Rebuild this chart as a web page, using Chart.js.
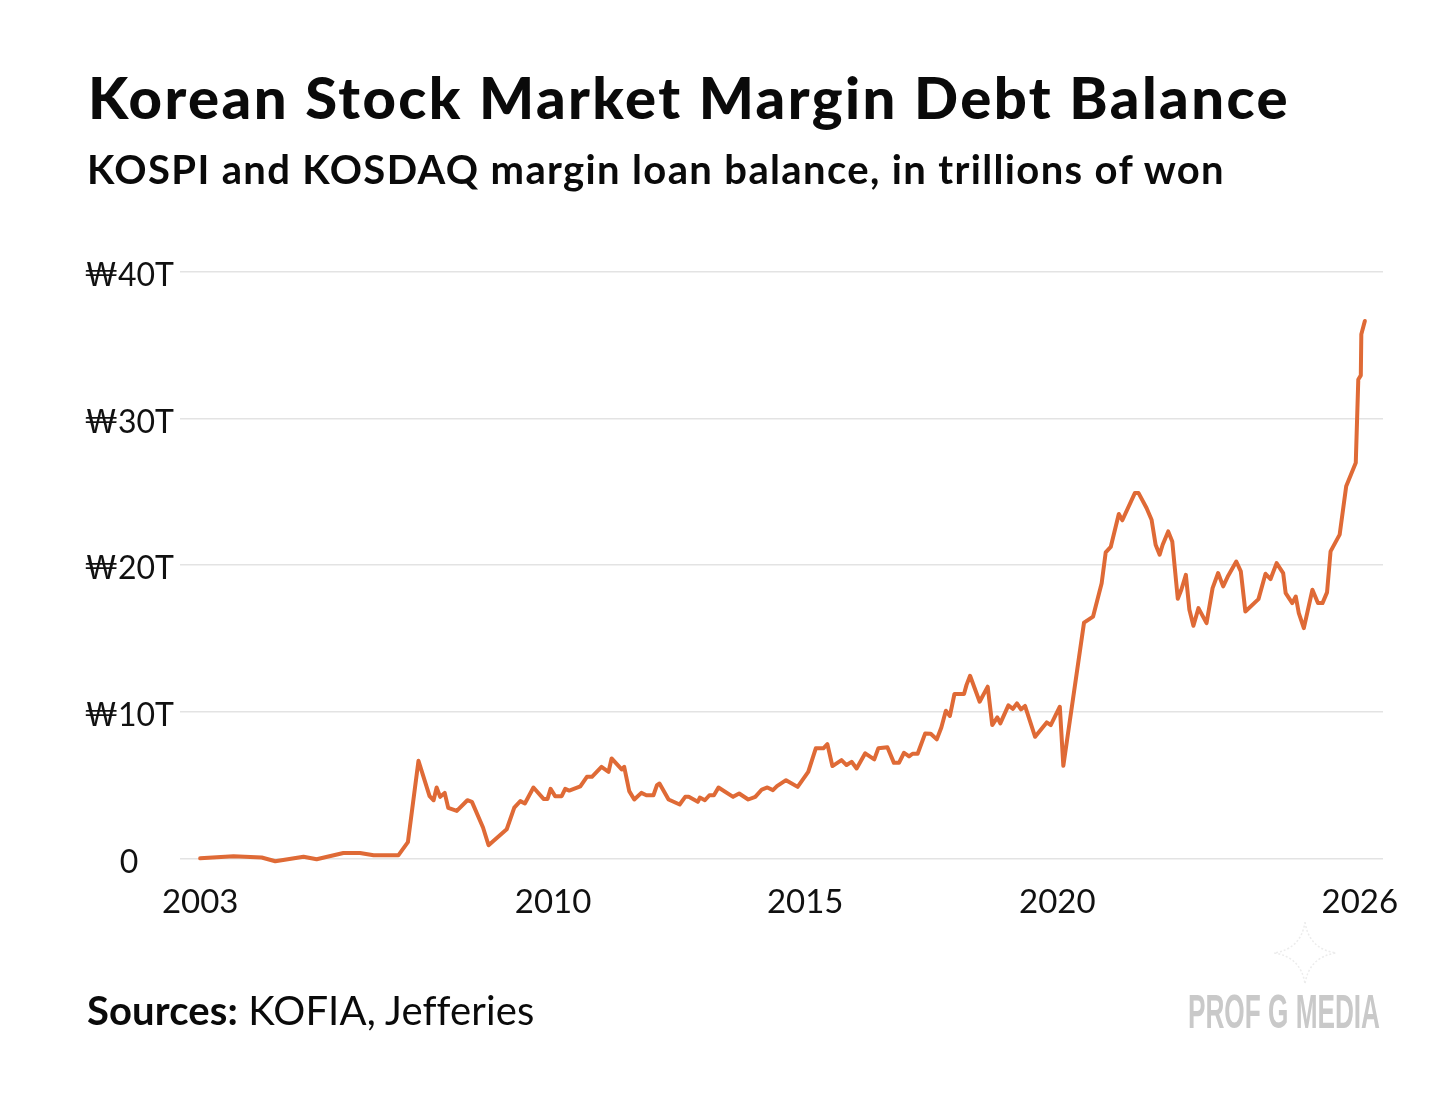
<!DOCTYPE html>
<html><head><meta charset="utf-8">
<script src="https://cdn.jsdelivr.net/npm/chart.js@4.4.1/dist/chart.umd.min.js"></script>
<style>
html,body{margin:0;padding:0;background:#fff;}
#wrap{position:relative;width:1456px;height:1099px;overflow:hidden;background:#fff;}
canvas{position:absolute;left:0;top:0;}
.t{position:absolute;white-space:nowrap;line-height:1;color:#0a0a0a;font-family:Lato,"Noto Sans",sans-serif;display:inline-block;}
#title{left:88px;top:68px;font-size:58px;font-weight:900;}
#subtitle{left:87px;top:149px;font-size:40px;font-weight:700;}
#source{left:87px;top:990px;font-size:40px;font-weight:400;}
#source b{font-weight:700;}
#logo{left:1188px;top:988px;font-size:48px;font-weight:700;color:#c9c9c9;font-family:"Liberation Sans Narrow","Liberation Sans",sans-serif;transform-origin:0 0;}
#star{position:absolute;left:1270px;top:918px;}
</style></head>
<body>
<div id="wrap">
<canvas id="c" width="1456" height="1099"></canvas>
<div class="t" id="title">Korean Stock Market Margin Debt Balance</div>
<div class="t" id="subtitle">KOSPI and KOSDAQ margin loan balance, in trillions of won</div>
<div class="t" id="source"><b>Sources:</b> KOFIA, Jefferies</div>
<svg id="star" width="70" height="70" viewBox="0 0 70 70"><path d="M35 4 Q39 31 66 35 Q39 39 35 66 Q31 39 4 35 Q31 31 35 4Z" fill="none" stroke="#ececec" stroke-width="1.5" stroke-dasharray="2 2"/></svg>
<div class="t" id="logo">PROF G MEDIA</div>
</div>
<script>
// Decimal-year dates and margin debt balance (trillions of won)
const dates = [
2003.00,2003.66,2004.22,2004.49,2005.05,2005.31,2005.84,2006.17,2006.44,2006.93,
2007.12,2007.33,2007.55,2007.63,2007.69,2007.76,2007.85,2007.92,2008.09,2008.30,
2008.39,2008.61,2008.72,2009.08,2009.23,2009.35,2009.44,2009.61,2009.81,2009.89,
2009.95,2010.04,2010.17,2010.24,2010.32,2010.54,2010.67,2010.77,2010.96,2011.10,
2011.16,2011.36,2011.41,2011.51,2011.61,2011.75,2011.85,2011.99,2012.06,2012.11,
2012.29,2012.51,2012.62,2012.69,2012.87,2012.91,2013.01,2013.10,2013.19,2013.28,
2013.57,2013.69,2013.87,2014.01,2014.14,2014.25,2014.36,2014.44,2014.62,2014.85,
2015.06,2015.21,2015.36,2015.44,2015.54,2015.72,2015.82,2015.92,2016.02,2016.19,
2016.37,2016.45,2016.63,2016.76,2016.86,2016.96,2017.06,2017.13,2017.23,2017.38,
2017.49,2017.61,2017.70,2017.79,2017.87,2017.96,2018.15,2018.20,2018.27,2018.46,
2018.62,2018.71,2018.81,2018.87,2019.03,2019.12,2019.20,2019.28,2019.36,2019.56,
2019.79,2019.87,2020.05,2020.12,2020.53,2020.71,2020.88,2020.96,2021.06,2021.22,
2021.29,2021.54,2021.61,2021.77,2021.87,2021.95,2022.03,2022.09,2022.20,2022.28,
2022.39,2022.46,2022.55,2022.62,2022.70,2022.80,2022.96,2023.08,2023.19,2023.29,
2023.39,2023.55,2023.64,2023.73,2023.99,2024.13,2024.23,2024.35,2024.48,2024.53,
2024.66,2024.73,2024.79,2024.89,2025.06,2025.17,2025.26,2025.35,2025.42,2025.60,
2025.73,2025.92,2025.97,2026.02,2026.03,2026.10
];
const balance = [
0.00,0.14,0.05,-0.20,0.10,-0.07,0.36,0.36,0.20,0.20,
1.10,6.65,4.24,3.96,4.83,4.19,4.46,3.44,3.23,3.96,
3.85,2.10,0.89,1.98,3.46,3.90,3.74,4.83,4.05,4.05,
4.74,4.24,4.24,4.74,4.62,4.90,5.56,5.56,6.24,5.90,
6.81,6.06,6.24,4.58,4.01,4.46,4.30,4.30,4.99,5.10,
4.01,3.67,4.19,4.19,3.85,4.14,3.96,4.30,4.30,4.83,
4.19,4.42,4.01,4.19,4.69,4.83,4.65,4.92,5.33,4.87,
5.90,7.50,7.50,7.79,6.29,6.70,6.36,6.58,6.13,7.16,
6.75,7.50,7.57,6.51,6.51,7.20,6.95,7.13,7.13,8.52,
8.50,8.11,8.92,10.07,9.71,11.21,11.21,11.83,12.45,10.68,
11.71,9.09,9.61,9.20,10.43,10.20,10.57,10.16,10.39,8.29,
9.27,9.09,10.34,6.31,16.08,16.49,18.77,20.87,21.24,23.49,
23.06,24.93,24.93,23.90,23.10,21.39,20.71,21.39,22.30,21.62,
17.70,18.32,19.34,16.95,15.86,17.07,16.04,18.43,19.46,18.55,
19.28,20.25,19.57,16.84,17.68,19.41,19.05,20.14,19.46,18.09,
17.41,17.86,16.73,15.70,18.32,17.41,17.41,18.14,20.94,22.08,
25.38,26.98,32.67,32.95,35.75,36.66
];
const xTickYears = [2003, 2010, 2015, 2020, 2026];
const yTickValues = [0, 10, 20, 30, 40];

function fitSpacing(id, target){
  const el = document.getElementById(id);
  const w = el.getBoundingClientRect().width;
  const n = el.textContent.length;
  el.style.letterSpacing = ((target - w) / n) + 'px';
}
function fitScale(id, target){
  const el = document.getElementById(id);
  const w = el.getBoundingClientRect().width;
  el.style.transform = 'scaleX(' + (target / w) + ')';
}

function draw(){
  fitSpacing('title', 1202);
  fitSpacing('subtitle', 1138);
  fitSpacing('source', 446);
  fitScale('logo', 192);
  const ctx = document.getElementById('c').getContext('2d');
  new Chart(ctx, {
    type: 'line',
    data: { datasets: [{
      data: dates.map((d, i) => ({ x: d, y: balance[i] })),
      borderColor: '#DF6A36', borderWidth: 4, pointRadius: 0, tension: 0,
      fill: false, borderJoinStyle: 'round', borderCapStyle: 'round'
    }]},
    options: {
      responsive: false, animation: false, devicePixelRatio: 1,
      layout: { padding: { left: 0, right: 73, top: 272, bottom: 169 } },
      plugins: { legend: { display: false }, tooltip: { enabled: false } },
      scales: {
        x: {
          type: 'linear', min: 2002.6, max: 2026.46,
          grid: { display: false }, border: { display: false },
          afterBuildTicks: s => { s.ticks = xTickYears.map(v => ({ value: v })); },
          afterFit: s => { s.height = 60; },
          ticks: { callback: v => String(v), color: '#111', font: { family: 'Lato', size: 33 },
                   padding: 5, maxRotation: 0, autoSkip: false }
        },
        y: {
          min: -0.8, max: 40,
          grid: { color: '#e3e3e3', lineWidth: 1.5, drawTicks: false }, border: { display: false },
          afterBuildTicks: s => { s.ticks = yTickValues.map(v => ({ value: v })); },
          afterFit: s => { s.width = 180; },
          ticks: { callback: v => v === 0 ? '0' : '\u20A9' + v + 'T', crossAlign: 'center',
                   padding: 6, labelOffset: 4, color: '#111', font: { family: 'Lato', size: 32 } }
        }
      }
    }
  });
}
Promise.all([
  document.fonts.load('32px Lato'), document.fonts.load('700 58px Lato'), document.fonts.load('900 58px Lato'),
  document.fonts.load('700 48px "Liberation Sans Narrow"')
]).then(draw, draw);
</script>
</body></html>
